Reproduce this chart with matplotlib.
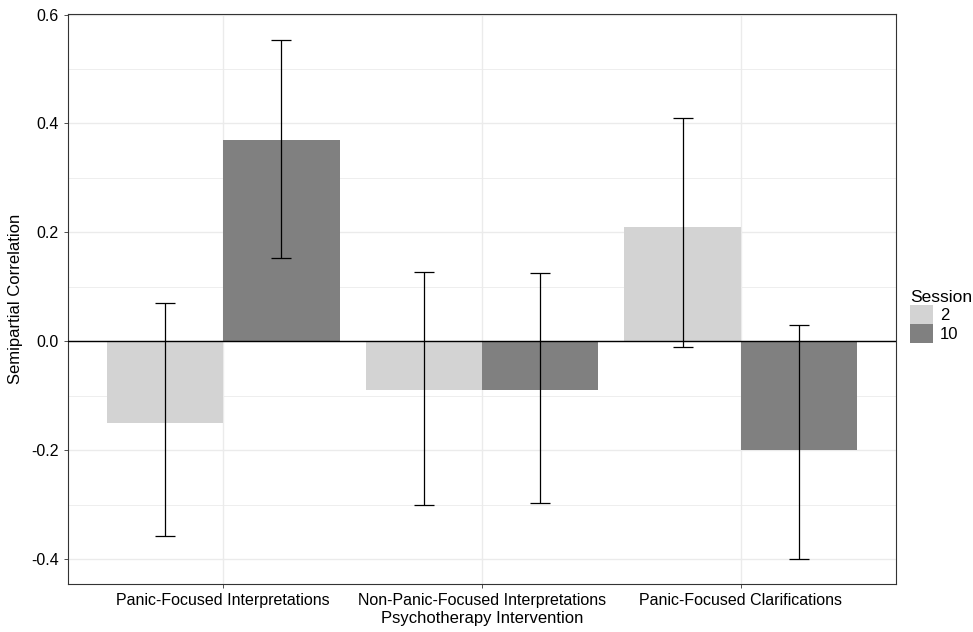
import matplotlib.pyplot as plt
import numpy as np
from matplotlib.patches import Patch

plt.rcParams['font.family'] = ['Liberation Sans', 'DejaVu Sans']

categories = ['Panic-Focused Interpretations', 'Non-Panic-Focused Interpretations',
              'Panic-Focused Clarifications']
sessions = ['2', '10']
corr_s2 = [-0.15, -0.09, 0.21]
lower_s2 = [-0.357, -0.300, -0.010]
upper_s2 = [0.070, 0.128, 0.410]
corr_s10 = [0.37, -0.09, -0.20]
lower_s10 = [0.153, -0.298, -0.400]
upper_s10 = [0.553, 0.126, 0.030]

colors = ['#d3d3d3', '#808080']

fig = plt.figure(figsize=(9.73, 6.32), dpi=100)
ax = fig.add_axes([0.0699, 0.0759, 0.851, 0.9019])

x = np.arange(1, len(categories) + 1)
w = 0.45

# grid like theme_bw
for yv in np.arange(-0.4, 0.61, 0.1):
    ax.axhline(yv, color='#ebebeb', lw=0.6 if round(yv * 10) % 2 else 1.0, zorder=0)
for xv in x:
    ax.axvline(xv, color='#ebebeb', lw=1.0, zorder=0)

data = [(corr_s2, lower_s2, upper_s2), (corr_s10, lower_s10, upper_s10)]
for i, (vals, lo, hi) in enumerate(data):
    pos = x + (i - 0.5) * w
    ax.bar(pos, vals, width=w, color=colors[i], zorder=2)
    vals = np.array(vals)
    ax.errorbar(pos, vals, yerr=[vals - np.array(lo), np.array(hi) - vals],
                fmt='none', ecolor='black', elinewidth=0.9, capsize=7.5,
                capthick=0.9, zorder=4)

ax.axhline(0, color='black', lw=1.0, zorder=3)

ax.set_xlim(0.4, 3.6)
ax.set_ylim(-0.446, 0.601)
ax.set_yticks([-0.4, -0.2, 0.0, 0.2, 0.4, 0.6])
ax.set_yticklabels(['-0.4', '-0.2', '0.0', '0.2', '0.4', '0.6'])
ax.set_xticks(x)
ax.set_xticklabels(categories)
ax.tick_params(labelsize=11.5, colors='#333333', length=3, width=0.6, labelcolor='black')
for s in ax.spines.values():
    s.set_color('#333333')
    s.set_linewidth(0.8)

ax.set_xlabel('Psychotherapy Intervention', fontsize=12, labelpad=2)
ax.set_ylabel('Semipartial Correlation', fontsize=12, labelpad=6)

handles = [Patch(facecolor=c, edgecolor='none') for c in colors]
fig.legend(handles, sessions, title='Session', loc='center left',
           bbox_to_anchor=(0.935, 0.5), frameon=False, fontsize=12,
           title_fontsize=12.5, handlelength=1.4, handleheight=1.3,
           handletextpad=0.4, labelspacing=0.05, alignment='left',
           borderaxespad=0, borderpad=0.0)

fig.savefig('out.png', dpi=100)
